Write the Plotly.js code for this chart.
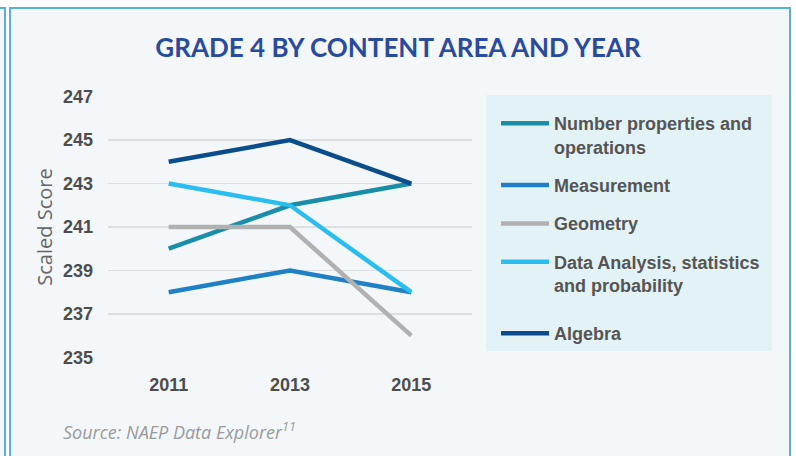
<!DOCTYPE html>
<html><head><meta charset="utf-8">
<script src="https://cdn.plot.ly/plotly-3.0.1.min.js"></script>
<style>
html,body{margin:0;padding:0;background:#ffffff;width:796px;height:456px;overflow:hidden;}
#f0{position:absolute;left:-20px;top:7px;width:22px;height:480px;border:2px solid #58b2cb;background:#f3f7fa;}
#f1{position:absolute;left:9px;top:7px;width:778px;height:480px;border:2px solid #58b2cb;background:#f3f7fa;}
#chart{position:absolute;left:0;top:0;width:796px;height:456px;}
</style></head>
<body><div id="f0"></div><div id="f1"></div><div id="chart"></div>
<script>
const years = ['2011','2013','2015'];
const seriesNames = ['Number properties and<br>operations','Measurement','Geometry','Data Analysis, statistics<br>and probability','Algebra'];
const numberOps = [240, 242, 243];
const measurement = [238, 239, 238];
const geometry = [241, 241, 236];
const dataAnalysis = [243, 242, 238];
const algebra = [244, 245, 243];
const yTicks = [235, 237, 239, 241, 243, 245, 247];
const colors = ['#1a8ea8','#1f80c6','#b1b1b1','#2bbdf0','#0a4d8a'];
const allValues = [numberOps, measurement, geometry, dataAnalysis, algebra];

const tickFont = {family:'"Liberation Sans Narrow","Arial Narrow","Liberation Sans",sans-serif', size:18, color:'#4d4d4d', weight:'bold'};
const traces = allValues.map((v,i)=>({
  x: years, y: v, type:'scatter', mode:'lines', name: seriesNames[i],
  legendgroup:'g'+i, legend: i === 4 ? 'legend2' : 'legend',
  line:{color:colors[i], width:4.5}, hoverinfo:'skip'
}));

const legendFont = {family:'"Liberation Sans Narrow","Arial Narrow","Liberation Sans",sans-serif', size:18, color:'#555555', weight:'bold'};
const layout = {
  width:796, height:456,
  margin:{l:108, r:324, t:96, b:98},
  paper_bgcolor:'rgba(0,0,0,0)', plot_bgcolor:'rgba(0,0,0,0)',
  title:{text:'GRADE 4 BY CONTENT AREA AND YEAR', x:0.5, xref:'container', xanchor:'center', y:0.895, yref:'container', yanchor:'middle',
    font:{family:'Lato, "Open Sans", sans-serif', size:26, color:'#2a4b9b', weight:'bold'}},
  xaxis:{type:'category', range:[-0.5,2.5], showgrid:false, zeroline:false, showline:false,
    ticks:'', tickfont:tickFont, ticklabelstandoff:14},
  yaxis:{range:[234.97,247.03], tickvals:yTicks, ticktext:yTicks.map(String), showgrid:true, gridcolor:'#dcdfe2', gridwidth:1.5,
    zeroline:false, showline:false, ticks:'', tickfont:tickFont, ticklabelstandoff:14,
    title:{text:'Scaled Score', standoff:4, font:{family:'"Open Sans", Lato, sans-serif', size:20, color:'#666666'}}},
  legend:{x:1.066, xanchor:'left', y:0.9655, yanchor:'top', bgcolor:'rgba(0,0,0,0)', borderwidth:0,
    font:legendFont, tracegroupgap:12, valign:'top', itemwidth:48, maxheight:420},
  legend2:{x:1.066, xanchor:'left', y:0.164, yanchor:'top', bgcolor:'rgba(0,0,0,0)', borderwidth:0,
    font:legendFont, valign:'top', itemwidth:48},
  shapes:[{type:'rect', xref:'paper', yref:'paper', x0:1.0385, x1:1.824, y0:0.0267, y1:1.0038,
    fillcolor:'#e3f2f5', line:{width:0}, layer:'below'}],
  annotations:[{text:'<i>Source: NAEP Data Explorer<sup>11</sup></i>', xref:'paper', yref:'paper', x:-0.13, y:-0.28,
    xanchor:'left', yanchor:'middle', showarrow:false,
    font:{family:'"Open Sans", Lato, sans-serif', size:18, color:'#9a9a9a'}}],
  showlegend:true
};
Plotly.newPlot('chart', traces, layout, {displayModeBar:false, staticPlot:true});
</script></body></html>
